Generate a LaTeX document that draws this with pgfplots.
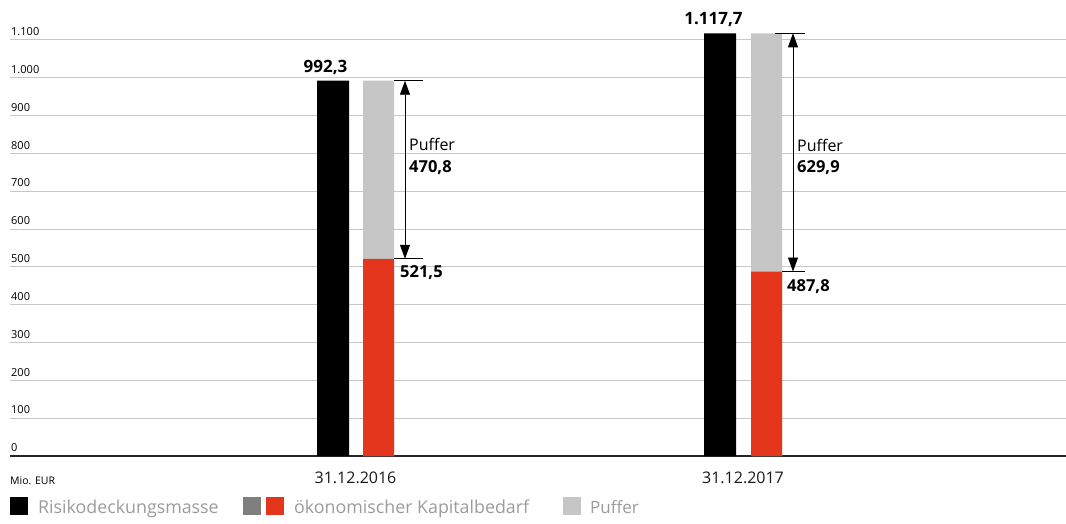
\documentclass[border=0pt]{standalone}
\usepackage{pgfplots}
\pgfplotsset{compat=1.18}
\usepackage{fontspec}
\setmainfont{Open Sans}
\usetikzlibrary{arrows.meta}
\definecolor{gridgray}{HTML}{C8C8C8}
\definecolor{bred}{HTML}{E3361D}
\definecolor{bgray}{HTML}{C6C6C6}
\definecolor{dgray}{HTML}{7F7F7F}
\definecolor{legtext}{HTML}{9B9B9B}
\begin{document}
\begin{tikzpicture}
\useasboundingbox (0pt,0pt) rectangle (1066pt,523pt);
\begin{axis}[
  at={(10pt,67pt)}, anchor=south west,
  scale only axis, width=1056pt, height=416pt,
  xmin=10, xmax=1066, ymin=0, ymax=1100,
  clip=false,
  axis line style={draw=none},
  ymajorgrids, grid style={gridgray, line width=1pt},
  ytick={0,100,...,1100},
  yticklabels={0,100,200,300,400,500,600,700,800,900,1.000,1.100},
  yticklabel style={anchor=south west, inner sep=0pt, xshift=1pt, yshift=4pt, font=\fontsize{11}{12}\selectfont},
  extra y ticks={0}, extra y tick labels={},
  extra y tick style={grid style={black!85, line width=1.5pt}},
  major tick length=0pt,
  xtick={355.5,743}, xticklabels={31.12.2016,31.12.2017},
  xticklabel style={anchor=north, inner sep=0pt, yshift=-16pt, font=\fontsize{16}{18}\selectfont, text=black!90},
]
\addplot[ybar, bar shift=0pt, bar width=32pt, fill=black, draw=none] coordinates {(333,992.3) (720,1117.7)};
\addplot[ybar, bar shift=0pt, bar width=31pt, fill=bgray, draw=none] coordinates {(378.5,992.3) (766.5,1117.7)};
\addplot[ybar, bar shift=0pt, bar width=31pt, fill=bred, draw=none] coordinates {(378.5,521.5) (766.5,487.8)};
% annotations 2016
\draw[line width=1pt] (axis cs:394,992.3) -- (axis cs:423,992.3);
\draw[line width=1pt] (axis cs:394,521.5) -- (axis cs:423,521.5);
\draw[line width=0.8pt, {Triangle[width=10pt,length=14pt]}-{Triangle[width=10pt,length=14pt]}] (axis cs:405,992.3) -- (axis cs:405,521.5);
% annotations 2017
\draw[line width=1pt] (axis cs:775,1117.7) -- (axis cs:805,1117.7);
\draw[line width=1pt] (axis cs:782,487.8) -- (axis cs:805,487.8);
\draw[line width=0.8pt, {Triangle[width=10pt,length=14pt]}-{Triangle[width=10pt,length=14pt]}] (axis cs:793,1117.7) -- (axis cs:793,487.8);
% value labels
\node[anchor=base, inner sep=0pt, yshift=8pt, font=\fontsize{17}{20}\selectfont\bfseries] at (axis cs:325.5,992.3) {992,3};
\node[anchor=base, inner sep=0pt, yshift=9pt, font=\fontsize{17}{20}\selectfont\bfseries] at (axis cs:713.5,1117.7) {1.117,7};
\node[anchor=base west, inner sep=0pt, yshift=-19pt, font=\fontsize{16.5}{20}\selectfont\bfseries] at (axis cs:400,521.5) {521,5};
\node[anchor=base west, inner sep=0pt, yshift=-20pt, font=\fontsize{16.5}{20}\selectfont\bfseries] at (axis cs:787,487.8) {487,8};
\node[anchor=base west, inner sep=0pt, font=\fontsize{16}{20}\selectfont] at (axis cs:409,807) {Puffer};
\node[anchor=base west, inner sep=0pt, font=\fontsize{16.5}{20}\selectfont\bfseries] at (axis cs:409,749) {470,8};
\node[anchor=base west, inner sep=0pt, font=\fontsize{16}{20}\selectfont] at (axis cs:797,804) {Puffer};
\node[anchor=base west, inner sep=0pt, font=\fontsize{16.5}{20}\selectfont\bfseries] at (axis cs:797,749) {629,9};
\end{axis}
% unit label
\node[anchor=base west, inner sep=0pt, font=\fontsize{10.5}{12}\selectfont] at (10pt,39pt) {Mio. EUR};
% legend
\fill[black] (10pt,8pt) rectangle (28pt,26pt);
\node[anchor=base west, inner sep=0pt, text=legtext, font=\fontsize{17.8}{20}\selectfont] at (38pt,10pt) {Risikodeckungsmasse};
\fill[dgray] (243pt,8pt) rectangle (261pt,26pt);
\fill[bred] (266pt,8pt) rectangle (284pt,26pt);
\node[anchor=base west, inner sep=0pt, text=legtext, font=\fontsize{17.8}{20}\selectfont] at (294pt,10pt) {ökonomischer Kapitalbedarf};
\fill[bgray] (563pt,8pt) rectangle (581pt,26pt);
\node[anchor=base west, inner sep=0pt, text=legtext, font=\fontsize{17}{20}\selectfont] at (590pt,10pt) {Puffer};
\end{tikzpicture}
\end{document}
